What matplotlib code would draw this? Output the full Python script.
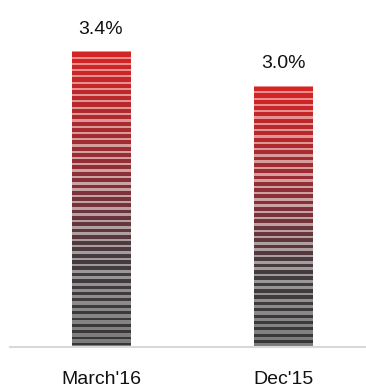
import numpy as np
import matplotlib
matplotlib.use("Agg")
import matplotlib.pyplot as plt
from matplotlib.colors import LinearSegmentedColormap

categories = ["March'16", "Dec'15"]
values = [3.4, 3.0]
labels = ["3.4%", "3.0%"]

plt.rcParams['font.family'] = ['Liberation Sans', 'DejaVu Sans']

W, H, DPI = 366, 388, 100
fig = plt.figure(figsize=(W / DPI, H / DPI), dpi=DPI)
ax = fig.add_axes([10 / W, 41 / H, 356 / W, 331 / H])
ax.set_xlim(-0.5, 1.456)
ax.set_ylim(0, 3.8)

x = np.arange(len(categories))
bars = ax.bar(x, values, width=0.32, facecolor='none', edgecolor='none')

# stripe/gradient colours (top -> bottom)
colA = LinearSegmentedColormap.from_list('a', [(0.0, '#d82424'), (0.45, '#86303a'), (0.7, '#463c40'), (1.0, '#383838')])
colB = LinearSegmentedColormap.from_list('b', [(0.0, '#ee8c8c'), (0.45, '#cca4a4'), (0.7, '#a09e9e'), (1.0, '#7a7a7a')])

period = 0.072
for bar, v in zip(bars, values):
    x0 = bar.get_x()
    w = bar.get_width()
    n = 900
    ys = np.linspace(v, 0, n)
    frac = 1 - ys / v
    phase = ((v - ys) / period) % 1.0
    lightfrac = np.interp(frac, [0, 0.75, 1.0], [0.33, 0.42, 0.65])
    light = phase < lightfrac
    ca = colA(frac)
    cb = colB(frac)
    img = np.where(light[:, None], cb, ca)
    img = np.repeat(img[:, None, :], 2, axis=1)
    im = ax.imshow(img, extent=[x0, x0 + w, 0, v], aspect='auto',
                   interpolation='nearest', zorder=2)
    im.set_clip_path(bar)

for xi, v, lab in zip(x, values, labels):
    ax.text(xi, v + 0.25, lab, ha='center', va='center', fontsize=14, color='#111111')

ax.set_xticks(x)
ax.set_xticklabels(categories, fontsize=14, color='#111111')
ax.tick_params(axis='x', length=0, pad=17)
ax.set_yticks([])
for s in ['top', 'right', 'left']:
    ax.spines[s].set_visible(False)
ax.spines['bottom'].set_color('#d9d9d9')
ax.spines['bottom'].set_linewidth(1.5)

fig.savefig('out.png', dpi=DPI)
